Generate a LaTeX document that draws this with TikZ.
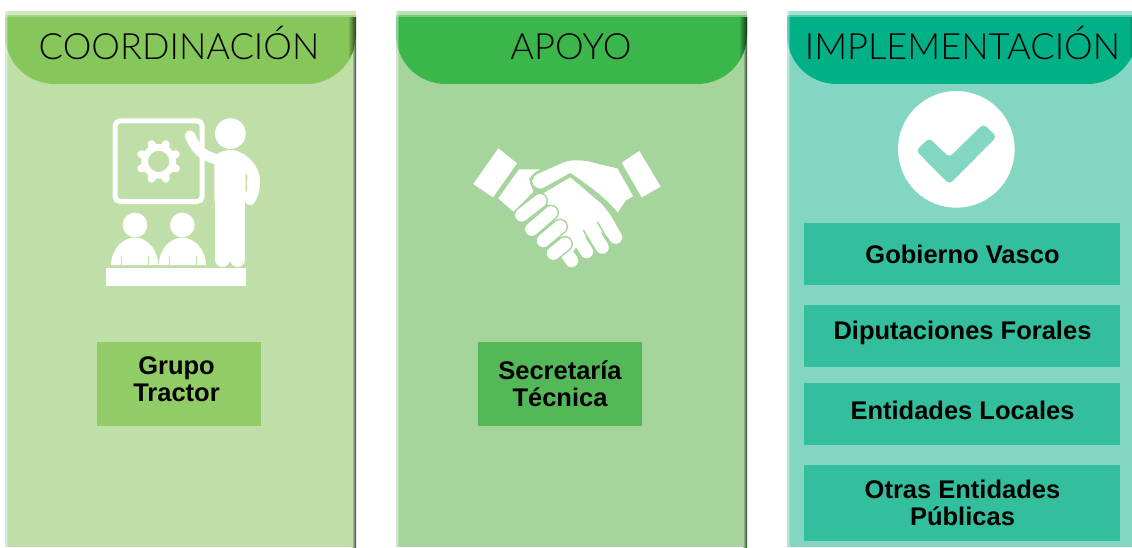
\documentclass[tikz,border=0pt]{standalone}
\usepackage{fontspec}
\setmainfont{Liberation Sans}
\newfontfamily\titlefont{Lato Light}
\definecolor{bgA}{HTML}{C0DFA8}\definecolor{hdA}{HTML}{85C75A}\definecolor{bxA}{HTML}{92CC67}
\definecolor{bgB}{HTML}{A5D49C}\definecolor{hdB}{HTML}{3BB64B}\definecolor{bxB}{HTML}{55B858}
\definecolor{bgC}{HTML}{83D7C2}\definecolor{hdC}{HTML}{00B187}\definecolor{bxC}{HTML}{33BF9E}
\tikzset{
 x=1pt,y=-1pt,
 titletext/.style={inner sep=0pt,anchor=base,text=black,font=\titlefont\fontsize{36.2}{37}\selectfont},
 boxnode/.style={inner sep=0pt,align=center,text=black,font=\fontsize{25.5}{27}\selectfont\bfseries},
 ic/.style={fill=white,draw=none},
 icl/.style={draw=white,line cap=round,line join=round},
}
\newcommand{\panel}[4]{% x-left, x-right, bg, header
 \fill[#3] (#1,11) rectangle (#2,547);
 \fill[#3!75!white] (#1,11) rectangle (#2,15);
 \fill[#3!60!#4] (#1,15) rectangle (#2,17);
 \shade[left color=#3,right color=#3!30!black] (#2-4,17) rectangle (#2,547);
 \begin{scope}
 \clip (#1,17) -- (#2,17) -- (#2,34) .. controls (#2,62) and (#2-22,84) .. (#2-50,84)
   -- (#1+50,84) .. controls (#1+22,84) and (#1,62) .. (#1,34) -- cycle;
 \fill[#4] (#1,17) rectangle (#2,84);
 \shade[left color=#4,right color=#4!30!black] (#2-8,11) rectangle (#2,84);
 \end{scope}
 \fill[white,opacity=.4] (#1,11) rectangle (#1+1.5,547);
 \fill[white,opacity=.2] (#1+1.5,11) rectangle (#1+3,547);
}
\begin{document}
\begin{tikzpicture}
\useasboundingbox (0,0) rectangle (1132,547);
\fill[white] (0,0) rectangle (1132,547);
\panel{5}{356}{bgA}{hdA}
\panel{396}{747}{bgB}{hdB}
\begin{scope}
\clip (0,0) rectangle (1132,547);
\panel{787}{1137}{bgC}{hdC}
\end{scope}
% titles
\node[titletext] (t1) at (179,59.7) {COORDINACIÓN};
\node[titletext] (t2) at (571,59.7) {APOYO};
\node[titletext] (t3) at (962.5,59.7) {IMPLEMENTACIÓN};
% boxes
\fill[bxA] (97,342) rectangle (261,426);
\node[boxnode] (g) at (176.5,379.5) {Grupo\\Tractor};
\fill[bxB] (478,342) rectangle (642,426);
\node[boxnode] (s) at (560,384) {Secretaría\\Técnica};
\fill[bxC] (804,223) rectangle (1120,285);
\fill[bxC] (804,305) rectangle (1120,367);
\fill[bxC] (804,383) rectangle (1120,445);
\fill[bxC] (804,465) rectangle (1120,541);
\node[boxnode] (b1) at (962.5,254) {Gobierno Vasco};
\node[boxnode] (b2) at (962.5,333) {Diputaciones Forales};
\node[boxnode] (b3) at (962.5,410) {Entidades Locales};
\node[boxnode] (b4) at (962.5,502.5) {Otras Entidades\\Públicas};
% --- teacher icon (zoom coordinates)
\begin{scope}[x=0.33333pt,y=-0.33333pt]
\draw[white,line width=5pt,rounded corners=5pt] (345.5,362.5) rectangle (606.5,604.5);
% gear
\foreach \a in {0,45,...,315}{
  \draw[icl,line width=8pt] (476,484)++(\a+22.5:50) -- ++(\a+22.5:6);
}
\draw[white,line width=6.7pt] (476,484) circle[radius=42];
% person
\fill[ic] (691,401) circle[radius=46];
\draw[icl,line width=10.5pt] (570,407) .. controls (585,440) and (600,465) .. (650,478);
\fill[ic] (643,480) .. controls (645,460) and (665,450) .. (700,450)
  .. controls (745,460) and (780,500) .. (780,545)
  .. controls (780,575) and (770,600) .. (760,612)
  .. controls (750,620) and (735,612) .. (735,600) -- (735,605) -- (643,605) -- cycle;
\fill[bgA] (737,520) -- (742,525) -- (741,572) -- (737,578) -- cycle;
\draw[icl,line width=14.5pt] (667,600) -- (667,779);
\draw[icl,line width=14.5pt] (713,600) -- (713,779);
% audience
\fill[ic] (405,675) circle[radius=37];
\fill[ic] (547,675) circle[radius=37];
\fill[ic] (333,795) .. controls (335,745) and (370,713) .. (404,713) .. controls (440,713) and (473,745) .. (475,795) -- cycle;
\fill[ic] (476,795) .. controls (478,745) and (512,713) .. (547,713) .. controls (582,713) and (616,745) .. (618,795) -- cycle;
\draw[bgA,line width=0.7pt] (365,772) -- (365,795) (445,772) -- (445,795) (508,772) -- (508,795) (588,772) -- (588,795);
\fill[ic] (318,804) rectangle (738,857);
\end{scope}
% --- handshake icon
\begin{scope}[shift={(465,140)},x=0.33333pt,y=-0.33333pt]
\fill[ic] (100,25) -- (156,70) -- (84,172) -- (25,132) -- cycle;
\fill[ic] (523,33) -- (587,140) -- (530,172) -- (470,68) -- cycle;
\fill[ic] (162,88) -- (225,88) -- (192,115) -- (205,155) -- (145,215) -- (100,175) -- cycle;
% palm
\fill[ic] (235,160) -- (316,112) -- (410,192) .. controls (435,220) and (455,255) .. (470,290)
  -- (432,292) -- (392,265) -- (350,300) -- (320,340) -- (290,300) -- cycle;
% right hand fingers
\draw[icl,line width=13pt] (415,230) -- (452,292);
\draw[icl,line width=13pt] (370,255) -- (412,322);
\draw[icl,line width=13pt] (320,265) -- (365,335);
\draw[icl,line width=13pt] (295,325) -- (320,362);
\draw[bgB,line width=1.5pt] (397,245) -- (430,303);
\draw[bgB,line width=1.5pt] (355,270) -- (385,325);
% left hand fingers
\foreach \a/\b/\c/\d in {265/340/300/312,235/302/285/260,200/268/258/218,170/225/225/182}{
  \draw[bgB,line cap=round,line width=16pt] (\a,\b) -- (\c,\d);
  \draw[icl,line width=13pt] (\a,\b) -- (\c,\d);
}
% top hand
\path[draw=bgB,fill=white,line width=2.5pt,line join=round]
  (212,100) -- (298,62) .. controls (315,56) and (345,56) .. (370,60) -- (460,82)
  -- (510,170) -- (485,185) -- (458,225) .. controls (425,180) and (375,145) .. (316,103)
  -- (235,148) .. controls (210,157) and (180,125) .. (212,100) -- cycle;
\end{scope}
% --- check icon
\begin{scope}[shift={(780,0)},x=0.33333pt,y=-0.33333pt]
\fill[ic] (529,448) circle[radius=175];
\fill[bgC,rounded corners=4pt] (408,452) -- (447,414) -- (508,472) -- (610,372) -- (650,410) -- (508,553) -- cycle;
\end{scope}
\end{tikzpicture}
\end{document}
